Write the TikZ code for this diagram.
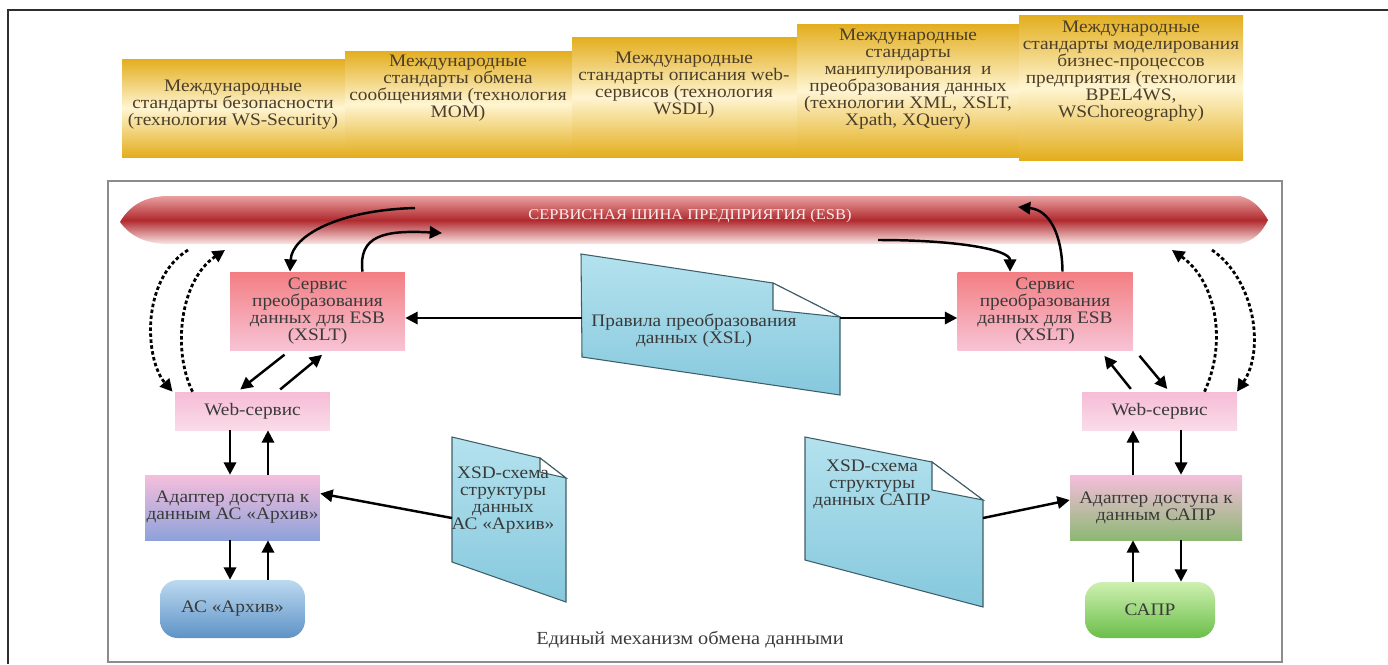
\documentclass[tikz,border=0pt]{standalone}
\usepackage{fontspec}
\setmainfont{Liberation Serif}[FakeStretch=1.1]
\usepackage{tikz}
\usetikzlibrary{arrows.meta}

\definecolor{gold}{HTML}{E3AE1E}
\definecolor{goldlt}{HTML}{FFF5D2}
\definecolor{busdark}{HTML}{B02A2E}
\definecolor{bustop}{HTML}{E9A0A0}
\definecolor{busbot}{HTML}{FBE6E6}
\definecolor{bustxt}{HTML}{FCEDED}
\definecolor{xslttop}{HTML}{F37E82}
\definecolor{xsltbot}{HTML}{F7C3D5}
\definecolor{webtop}{HTML}{F6BCD6}
\definecolor{webbot}{HTML}{FADCE8}
\definecolor{adtop}{HTML}{F6BEDC}
\definecolor{adLbot}{HTML}{8EA2DA}
\definecolor{adRbot}{HTML}{8CB874}
\definecolor{asLtop}{HTML}{BCD9F0}
\definecolor{asLbot}{HTML}{5E93C6}
\definecolor{caprtop}{HTML}{CFF0B0}
\definecolor{caprbot}{HTML}{6BBE4A}
\definecolor{doctop}{HTML}{B4E2EE}
\definecolor{docbot}{HTML}{86C8DD}
\definecolor{docline}{HTML}{3D5E68}
\definecolor{txt}{HTML}{3A3A3A}
\definecolor{stdtxt}{HTML}{4B3E2A}
\definecolor{frameout}{HTML}{2E2E2E}
\definecolor{framein}{HTML}{8C8C8C}

\begin{document}
\begin{tikzpicture}[x=0.02cm,y=-0.02cm,
    every node/.style={font=\fontsize{10}{9.7}\selectfont, align=center, text=txt, inner sep=0pt},
    stdbox/.style={top color=gold, bottom color=gold, middle color=goldlt},
    xsltbox/.style={top color=xslttop, bottom color=xsltbot, minimum width=3.5cm, minimum height=1.56cm},
    webbox/.style={top color=webtop, bottom color=webbot, minimum width=3.1cm, minimum height=0.76cm},
    adbox/.style={top color=adtop, minimum height=1.3cm},
    docshape/.style={top color=doctop, bottom color=docbot, draw=docline, line width=0.6pt},
    arr/.style={-{Triangle[length=7pt,width=7pt]}, line width=1.4pt},
    dotarr/.style={arr, line width=1.6pt, dash pattern=on 2pt off 1.4pt}]
  \useasboundingbox (0,0) rectangle (1388,664);
  % frames
  \draw[frameout, line width=1.2pt] (8,664) -- (8,10) -- (1388,10);
  \draw[framein, line width=1pt] (108,181) rectangle (1282,662);

  % standards
  \shade[stdbox] (122,59) rectangle (345,157);
  \shade[stdbox] (345,51) rectangle (572,157);
  \shade[stdbox] (572,37) rectangle (797,157);
  \shade[stdbox] (797,24) rectangle (1019,157);
  \shade[stdbox] (1019,15) rectangle (1243,160);
  \node[text=stdtxt] (std1) at (233,105) {Международные\\стандарты безопасности\\(технология WS-Security)};
  \node[text=stdtxt] (std2) at (458,88) {Международные\\стандарты обмена\\сообщениями (технология\\МОМ)};
  \node[text=stdtxt] (std3) at (684,85) {Международные\\стандарты описания web-\\сервисов (технология\\WSDL)};
  \node[text=stdtxt] (std4) at (908,79) {Международные\\стандарты\\манипулирования~ и\\преобразования данных\\(технологии XML, XSLT,\\Xpath, XQuery)};
  \node[text=stdtxt] (std5) at (1131,71) {Международные\\стандарты моделирования\\бизнес-процессов\\предприятия (технологии\\BPEL4WS,\\WSChoreography)};

  % bus
  \shade[top color=bustop, bottom color=busbot, middle color=busdark]
    (120,222) .. controls (130,205) and (145,197) .. (165,196) -- (1240,196)
    .. controls (1255,200) and (1262,210) .. (1268,220)
    .. controls (1262,232) and (1255,240) .. (1240,244) -- (165,244)
    .. controls (145,243) and (130,236) .. (120,222) -- cycle;
  \node[text=bustxt, font=\fontsize{8.5}{9}\selectfont] (esb) at (690,216) {СЕРВИСНАЯ ШИНА ПРЕДПРИЯТИЯ (ESB)};

  % documents
  \shade[docshape] (581,254) -- (773,283) -- (840,317) -- (840,395) -- (582,357) -- cycle;
  \filldraw[fill=white, draw=docline, line width=0.6pt] (773,283) -- (773,310) -- (840,317) -- cycle;
  \node (xsl) at (694,331) {Правила преобразования\\данных (XSL)};
  \shade[docshape] (452,437) -- (540,458) -- (566,478) -- (566,602) -- (452,562) -- cycle;
  \filldraw[fill=white, draw=docline, line width=0.6pt] (540,458) -- (540,472) -- (566,478) -- cycle;
  \node (xsdL) at (503,500) {XSD-схема\\структуры\\данных\\АС «Архив»};
  \shade[docshape] (805,437) -- (932,462) -- (983,500) -- (983,607) -- (805,560) -- cycle;
  \filldraw[fill=white, draw=docline, line width=0.6pt] (932,462) -- (932,490) -- (983,500) -- cycle;
  \node (xsdR) at (872,484) {XSD-схема\\структуры\\данных САПР};

  % services
  \node[xsltbox] (xsltL) at (317.5,311) {Сервис\\преобразования\\данных для ESB\\(XSLT)};
  \node[xsltbox] (xsltR) at (1045,311) {Сервис\\преобразования\\данных для ESB\\(XSLT)};
  \node[webbox] (webL) at (252.5,411) {Web-сервис};
  \node[webbox] (webR) at (1159.5,411) {Web-сервис};
  \node[adbox, bottom color=adLbot, minimum width=3.5cm] (adL) at (232.5,507.5) {Адаптер доступа к\\данным АС «Архив»};
  \node[adbox, bottom color=adRbot, minimum width=3.44cm] (adR) at (1156,507.5) {Адаптер доступа к\\данным САПР};
  \node[top color=asLtop, bottom color=asLbot, rounded corners=10pt, minimum width=2.9cm, minimum height=1.16cm] (asL) at (232.5,609) {АС «Архив»};
  \node[top color=caprtop, bottom color=caprbot, rounded corners=10pt, minimum width=2.6cm, minimum height=1.12cm] (capr) at (1150,610) {САПР};
  \node[font=\fontsize{10.5}{12}\selectfont] (mech) at (690,640) {Единый механизм обмена данными};

  % bus ends
  \coordinate (busL1) at (415,208);
  \coordinate (busL2) at (442,233);
  \coordinate (busL3) at (188,250);
  \coordinate (busL4) at (225,250);
  \coordinate (busR1) at (878,240);
  \coordinate (busR2) at (1018,207);
  \coordinate (busR3) at (1172,250);
  \coordinate (busR4) at (1212,250);
  \coordinate (xslW) at (582,318);
  \coordinate (xslE) at (840,318);
  \coordinate (xsdLW) at (452,518);
  \coordinate (xsdRE) at (983,518);

  % links
  \draw[arr] (busL1) .. controls (340,210) and (292,235) .. ([xshift=-0.55cm]xsltL.north);
  \draw[arr] ([xshift=0.9cm]xsltL.north) .. controls (358,235) and (385,230) .. (busL2);
  \draw[arr] (busR1) .. controls (960,240) and (1010,250) .. ([xshift=-0.7cm]xsltR.north);
  \draw[arr] ([xshift=0.35cm]xsltR.north) .. controls (1062,235) and (1050,210) .. (busR2);
  \draw[dotarr] (busL3) .. controls (140,280) and (145,360) .. ([xshift=-1.6cm]webL.north);
  \draw[dotarr] ([xshift=-1.2cm]webL.north) .. controls (172,350) and (180,280) .. (busL4);
  \draw[dotarr] ([xshift=0.9cm]webR.north) .. controls (1228,340) and (1215,280) .. (busR3);
  \draw[dotarr] (busR4) .. controls (1255,280) and (1265,350) .. ([xshift=1.55cm]webR.north);

  \draw[arr, shorten <=4pt, shorten >=2pt] ([xshift=-0.55cm]xsltL.south) -- ([xshift=-0.3cm]webL.north);
  \draw[arr, shorten <=2pt, shorten >=4pt] ([xshift=0.5cm]webL.north) -- ([xshift=0.2cm]xsltL.south);
  \draw[arr, shorten <=2pt, shorten >=4pt] ([xshift=-0.53cm]webR.north) -- ([xshift=1.1cm]xsltR.south);
  \draw[arr, shorten <=4pt, shorten >=2pt] ([xshift=1.8cm]xsltR.south) -- ([xshift=0.2cm]webR.north);

  \draw[arr] ([xshift=-0.45cm]webL.south) -- ([xshift=-0.45cm]webL.south |- adL.north);
  \draw[arr] ([xshift=0.31cm]webL.south |- adL.north) -- ([xshift=0.31cm]webL.south);
  \draw[arr] ([xshift=-0.45cm]webL.south |- adL.south) -- ([xshift=-0.45cm]webL.south |- asL.north);
  \draw[arr] ([xshift=0.31cm]webL.south |- asL.north) -- ([xshift=0.31cm]webL.south |- adL.south);
  \draw[arr] ([xshift=-0.53cm]webR.south |- adR.north) -- ([xshift=-0.53cm]webR.south);
  \draw[arr] ([xshift=0.43cm]webR.south) -- ([xshift=0.43cm]webR.south |- adR.north);
  \draw[arr] ([xshift=-0.53cm]webR.south |- capr.north) -- ([xshift=-0.53cm]webR.south |- adR.south);
  \draw[arr] ([xshift=0.43cm]webR.south |- adR.south) -- ([xshift=0.43cm]webR.south |- capr.north);

  \draw[arr] (xslW) -- (xsltL.east |- xslW);
  \draw[arr] (xslE) -- (xsltR.west |- xslE);
  \draw[arr] (xsdLW) -- ([yshift=0.28cm]adL.east);
  \draw[arr] (xsdRE) -- ([yshift=0.15cm]adR.west);
\end{tikzpicture}
\end{document}
